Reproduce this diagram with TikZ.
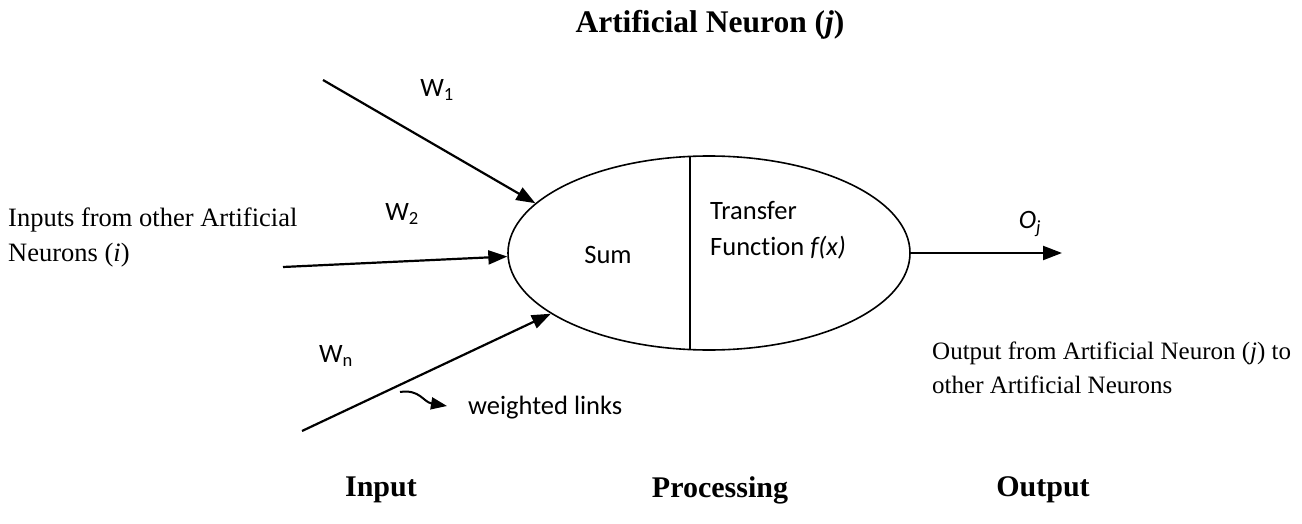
\documentclass[tikz,border=0pt]{standalone}
\usepackage{fontspec}
\setmainfont{Liberation Serif}
\newfontfamily\calib[Ligatures=NoCommon]{Carlito}
\usetikzlibrary{arrows.meta,shapes.geometric}

\tikzset{
  link/.style={line width=2.2pt,-{Triangle[length=19pt,width=14pt]}},
  serif/.style={font=\fontsize{26.5}{35}\selectfont, inner sep=0pt, align=left},
  heading/.style={font=\fontsize{30}{36}\selectfont\bfseries, inner sep=0pt},
  sans/.style={font=\calib\fontsize{26.5}{36}\selectfont, inner sep=0pt, align=left},
}

\begin{document}
\begin{tikzpicture}[x=1pt,y=-1pt]
  \useasboundingbox (0,0) rectangle (1302,524);

  % title
  \node[heading, font=\fontsize{31.5}{36}\selectfont\bfseries] (title) at (710,25) {Artificial Neuron (\textit{j})};

  % the neuron body: summing part and transfer part
  \node[draw, ellipse, line width=1.6pt, minimum width=402pt, minimum height=194pt, inner sep=0pt] (neuron) at (709,253) {};
  \draw[line width=1.6pt] ([xshift=-19pt,yshift=-1pt]neuron.north) -- ([xshift=-19pt,yshift=1pt]neuron.south);
  \node[sans] (sum) at (608,255) {Sum};
  \node[sans, anchor=west] (transfer) at (710,230) {Transfer\\Function \textit{f(x)}};

  % incoming weighted links
  \coordinate (in1) at (323,80);
  \coordinate (in2) at (283,267);
  \coordinate (inn) at (302,431);
  \draw[link] (in1) -- (neuron.164);
  \draw[link] (in2) -- (neuron.181);
  \draw[link] (inn) -- (neuron.201);
  \node[sans] (w1) at (437,90) {W\textsubscript{1}};
  \node[sans] (w2) at (402,214) {W\textsubscript{2}};
  \node[sans] (wn) at (336,356) {W\textsubscript{n}};

  \node[serif, anchor=west] (inputs) at (8,237) {Inputs from other Artificial\\Neurons (\textit{i})};

  % pointer to the links
  \coordinate (wlA) at (400,392);
  \coordinate (wlB) at (447,406);
  \draw[line width=2pt,-{Triangle[length=16pt,width=12pt]}] (wlA) .. controls (420,389) and (423,402) .. (wlB);
  \node[sans, anchor=west] (wlinks) at (468,408) {weighted links};

  % output
  \coordinate (out) at (1062,253);
  \draw[link] (neuron.east) -- (out);
  \node[sans] (oj) at (1030,224) {\textit{O}\textsubscript{\textit{j}}};
  \node[serif, anchor=west, font=\fontsize{25}{34}\selectfont] (outtext) at (932,368) {Output from Artificial Neuron (\textit{j}) to\\other Artificial Neurons};

  % stage captions
  \node[heading] (cin) at (381,490) {Input};
  \node[heading] (cproc) at (720,490) {Processing};
  \node[heading] (cout) at (1043,490) {Output};
\end{tikzpicture}
\end{document}
